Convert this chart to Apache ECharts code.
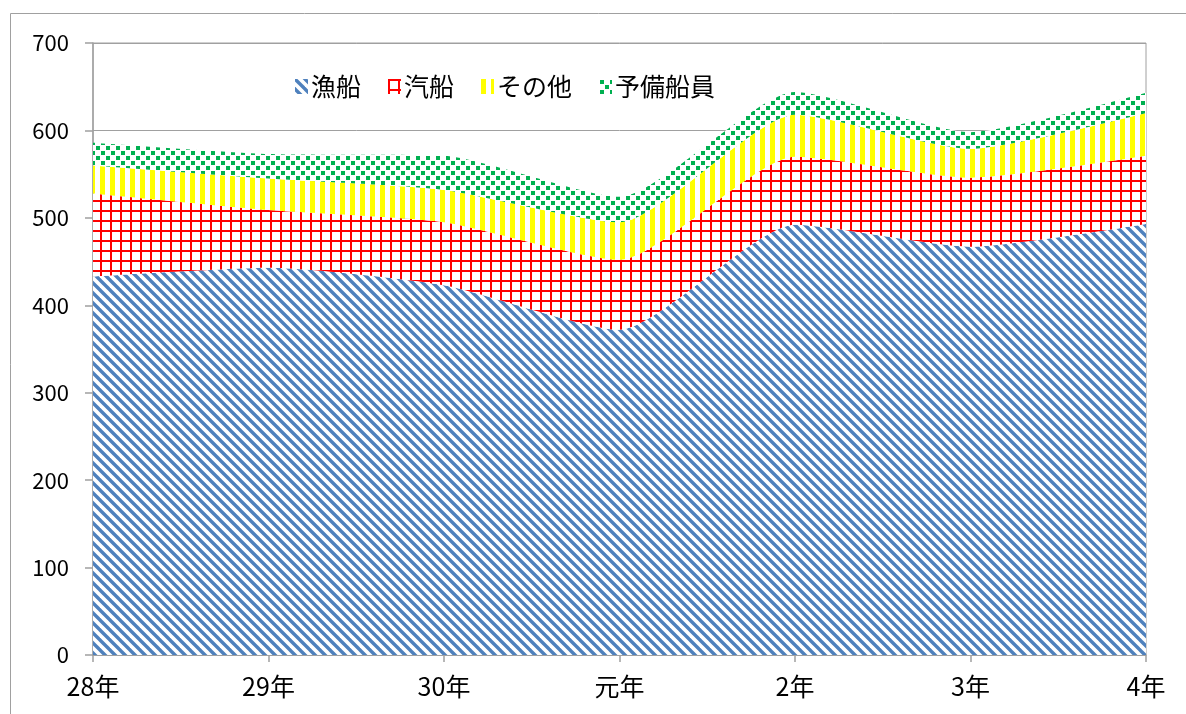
<!DOCTYPE html>
<html>
<head>
<meta charset="utf-8">
<script src="https://cdn.jsdelivr.net/npm/echarts@6/dist/echarts.min.js"></script>
<style>
  html, body { margin: 0; padding: 0; background: #fff; }
  #chart { width: 1186px; height: 714px; }
</style>
</head>
<body>
<div id="chart"></div>
<script>
const categories = ['28年', '29年', '30年', '元年', '2年', '3年', '4年']
const gyosen = [433, 443, 423, 372, 492, 467, 493]
const kisen = [95, 66, 72, 80, 78, 79, 78]
const sonota = [32, 36, 37, 43, 48, 33, 49]
const yobi = [26, 28, 39, 29, 26, 19, 23]
const yTicks = { min: 0, max: 700, step: 100 }

const FONT = '"Noto Sans CJK JP", "Noto Sans", sans-serif'
const GRAY = '#a0a0a0'

// canvas tiles used as pattern fills
function tile(size, draw) {
  const c = document.createElement('canvas')
  c.width = size
  c.height = size
  const ctx = c.getContext('2d')
  ctx.fillStyle = '#fff'
  ctx.fillRect(0, 0, size, size)
  draw(ctx, size)
  return { image: c, repeat: 'repeat' }
}

const blueStripes = tile(10, (ctx, s) => {
  ctx.strokeStyle = '#4f81bd'
  ctx.lineWidth = 3.4
  for (const k of [-s, 0, s]) {
    ctx.beginPath()
    ctx.moveTo(k - 2, -2)
    ctx.lineTo(k + s + 2, s + 2)
    ctx.stroke()
  }
})

const redGrid = tile(10, (ctx, s) => {
  ctx.fillStyle = '#ff0000'
  ctx.fillRect(0, 0, 2, s)
  ctx.fillRect(0, 0, s, 2)
})

const yellowBars = tile(10, (ctx, s) => {
  ctx.fillStyle = '#ffff00'
  ctx.fillRect(0, 0, 5, s)
})

const greenDots = tile(10, (ctx, s) => {
  ctx.fillStyle = '#00b050'
  ctx.fillRect(1, 1, 4, 4)
  ctx.fillRect(6, 6, 4, 4)
})

const names = ['漁船', '汽船', 'その他', '予備船員']
const values = [gyosen, kisen, sonota, yobi]
const fills = [blueStripes, redGrid, yellowBars, greenDots]
const solid = ['#4f81bd', '#ff0000', '#ffff00', '#00b050']

const chart = echarts.init(document.getElementById('chart'))
chart.setOption({
  animation: false,
  graphic: [{
    type: 'rect',
    shape: { x: 10.5, y: 13.5, width: 1200, height: 720 },
    style: { fill: 'none', stroke: GRAY, lineWidth: 1 },
    silent: true,
  }],
  legend: {
    left: 290,
    top: 69,
    icon: 'rect',
    itemWidth: 13,
    itemHeight: 15,
    itemGap: 27,
    textStyle: { fontFamily: FONT, fontSize: 25, color: '#000', padding: [0, 0, 0, -2] },
    data: names.map((n, i) => ({ name: n, itemStyle: { color: fills[i] } })),
  },
  grid: {
    left: 93, right: 40, top: 43, bottom: 59,
    show: true, borderColor: GRAY, borderWidth: 1,
  },
  xAxis: {
    type: 'category',
    data: categories,
    boundaryGap: false,
    axisLine: { lineStyle: { color: GRAY, width: 1.5 } },
    axisTick: { show: true, length: 7, lineStyle: { color: GRAY, width: 1.5 } },
    axisLabel: { color: '#000', fontFamily: FONT, fontSize: 25, margin: 19 },
  },
  yAxis: {
    type: 'value',
    min: yTicks.min,
    max: yTicks.max,
    interval: yTicks.step,
    axisLine: { show: true, lineStyle: { color: GRAY, width: 1.5 } },
    axisTick: { show: true, length: 8, lineStyle: { color: GRAY, width: 1.5 } },
    axisLabel: { color: '#000', fontFamily: FONT, fontSize: 22, margin: 24 },
    splitLine: { lineStyle: { color: GRAY, width: 1 } },
  },
  series: names.map((n, i) => ({
    name: n,
    type: 'line',
    stack: 'total',
    data: values[i],
    smooth: 0.2,
    showSymbol: false,
    color: solid[i],
    lineStyle: { width: 0, opacity: 0 },
    areaStyle: { color: fills[i], opacity: 1 },
  })),
})
</script>
</body>
</html>
